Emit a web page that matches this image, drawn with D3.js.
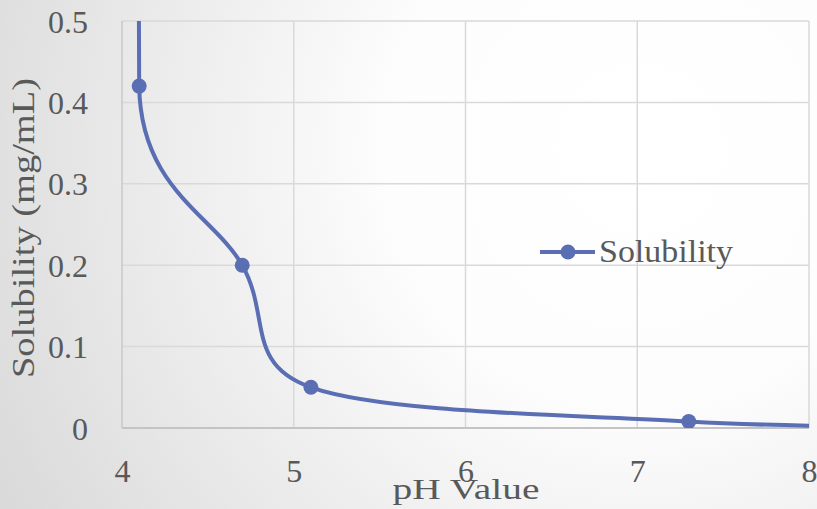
<!DOCTYPE html>
<html>
<head>
<meta charset="utf-8">
<script src="https://cdn.jsdelivr.net/npm/d3@7"></script>
<style>
  html, body { margin: 0; padding: 0; }
  body { width: 817px; height: 509px; overflow: hidden; }
  svg text { font-family: "Liberation Serif", "Times New Roman", serif; fill: #595959; }
</style>
</head>
<body>
<svg id="chart" width="817" height="509"></svg>
<script>
// Measured solubility against pH; the first and last entries lie outside the axis range
const phValues = [4.0, 4.1, 4.7, 5.1, 7.3, 9.0];
const solubility = [10.0, 0.42, 0.2, 0.05, 0.008, 0.001];
const xTicks = [4, 5, 6, 7, 8];
const yTicks = [0, 0.1, 0.2, 0.3, 0.4, 0.5];
const seriesName = "Solubility";
const xTitle = "pH Value";
const yTitle = "Solubility (mg/mL)";

const W = 817, H = 509;
const plot = { left: 122, right: 809, top: 21, bottom: 428 };
const lineColor = "#5a6eb4";
const textColor = "#595959";

const svg = d3.select("#chart");
const defs = svg.append("defs");

// soft background: white towards the upper right, grey towards the lower left
const grad = defs.append("radialGradient")
  .attr("id", "bg").attr("gradientUnits", "userSpaceOnUse")
  .attr("cx", 640).attr("cy", 150).attr("r", 720);
grad.append("stop").attr("offset", "0%").attr("stop-color", "#ffffff");
grad.append("stop").attr("offset", "35%").attr("stop-color", "#fdfdfd");
grad.append("stop").attr("offset", "100%").attr("stop-color", "#dadada");
svg.append("rect").attr("width", W).attr("height", H).attr("fill", "url(#bg)");

defs.append("clipPath").attr("id", "plotClip")
  .append("rect")
  .attr("x", plot.left).attr("y", plot.top)
  .attr("width", plot.right - plot.left).attr("height", plot.bottom - plot.top);

const x = d3.scaleLinear().domain([4, 8]).range([plot.left, plot.right]);
const y = d3.scaleLinear().domain([0, 0.5]).range([plot.bottom, plot.top]);

// gridlines
const grid = svg.append("g");
grid.selectAll("line.h").data(yTicks.filter(d => d > 0)).join("line")
  .attr("x1", plot.left).attr("x2", plot.right)
  .attr("y1", d => y(d)).attr("y2", d => y(d))
  .attr("stroke", "#d9d9d9").attr("stroke-width", 1.5);
grid.selectAll("line.v").data(xTicks).join("line")
  .attr("x1", d => x(d)).attr("x2", d => x(d))
  .attr("y1", plot.top).attr("y2", plot.bottom)
  .attr("stroke", d => d === 4 ? "#c8c8c8" : "#d9d9d9").attr("stroke-width", 1.5);

// x axis line
svg.append("line")
  .attr("x1", plot.left).attr("x2", plot.right)
  .attr("y1", y(0)).attr("y2", y(0))
  .attr("stroke", "#c4c4c4").attr("stroke-width", 2);

// tick labels
const xAxis = d3.axisBottom(x).tickValues(xTicks).tickSize(0).tickPadding(0).tickFormat(d3.format("d"));
const gx = svg.append("g").attr("transform", `translate(0,${plot.bottom})`).call(xAxis);
gx.select(".domain").remove();
gx.attr("font-family", null).attr("font-size", null);
gx.selectAll("text").attr("dy", null).attr("y", 54)
  .style("font-size", "32px").style("fill", textColor);

const yAxis = d3.axisLeft(y).tickValues(yTicks).tickSize(0).tickPadding(34)
  .tickFormat(d => d === 0 ? "0" : d3.format(".1f")(d));
const gy = svg.append("g").attr("transform", `translate(${plot.left},0)`).call(yAxis);
gy.select(".domain").remove();
gy.attr("font-family", null).attr("font-size", null);
gy.selectAll("text").attr("dy", null).attr("y", 11)
  .style("font-size", "32px").style("fill", textColor);

// axis titles
svg.append("text")
  .attr("x", 466).attr("y", 499)
  .attr("text-anchor", "middle")
  .attr("textLength", 147).attr("lengthAdjust", "spacingAndGlyphs")
  .style("font-size", "29px")
  .text(xTitle);
svg.append("text")
  .attr("transform", "translate(34,228) rotate(-90)")
  .attr("text-anchor", "middle")
  .attr("textLength", 300).attr("lengthAdjust", "spacingAndGlyphs")
  .style("font-size", "31px")
  .text(yTitle);

// smoothed line: cubic Bezier segments whose control arms follow the
// neighbouring points (1/6 of the chord P[i+1]-P[i-1]) and are capped
// at half of the segment length
function smoothPath(pts) {
  const p = d3.path();
  const n = pts.length;
  const cap = (v, lim) => {
    const len = Math.hypot(v[0], v[1]);
    return len > lim ? [v[0] * lim / len, v[1] * lim / len] : v;
  };
  p.moveTo(pts[0][0], pts[0][1]);
  for (let i = 0; i < n - 1; i++) {
    const p0 = pts[Math.max(i - 1, 0)], p1 = pts[i], p2 = pts[i + 1], p3 = pts[Math.min(i + 2, n - 1)];
    const half = Math.hypot(p2[0] - p1[0], p2[1] - p1[1]) / 2;
    const a = cap([(p2[0] - p0[0]) / 6, (p2[1] - p0[1]) / 6], half);
    const b = cap([(p3[0] - p1[0]) / 6, (p3[1] - p1[1]) / 6], half);
    p.bezierCurveTo(p1[0] + a[0], p1[1] + a[1], p2[0] - b[0], p2[1] - b[1], p2[0], p2[1]);
  }
  return p.toString();
}

const pts = phValues.map((v, i) => ({ ph: v, s: solubility[i] }));
const series = svg.append("g").attr("clip-path", "url(#plotClip)");
series.append("path")
  .attr("d", smoothPath(pts.map(d => [x(d.ph), y(d.s)])))
  .attr("fill", "none")
  .attr("stroke", lineColor)
  .attr("stroke-width", 4)
  .attr("stroke-linejoin", "round");
series.selectAll("circle").data(pts).join("circle")
  .attr("cx", d => x(d.ph)).attr("cy", d => y(d.s))
  .attr("r", 7.5)
  .attr("fill", lineColor);

// legend
const lg = svg.append("g").attr("transform", "translate(540,252)");
lg.append("line").attr("x1", 0).attr("x2", 55).attr("y1", 0).attr("y2", 0)
  .attr("stroke", lineColor).attr("stroke-width", 4);
lg.append("circle").attr("cx", 28).attr("cy", 0).attr("r", 7.5).attr("fill", lineColor);
lg.append("text").attr("x", 59).attr("y", 10)
  .attr("textLength", 134).attr("lengthAdjust", "spacingAndGlyphs")
  .style("font-size", "32px")
  .text(seriesName);
</script>
</body>
</html>
